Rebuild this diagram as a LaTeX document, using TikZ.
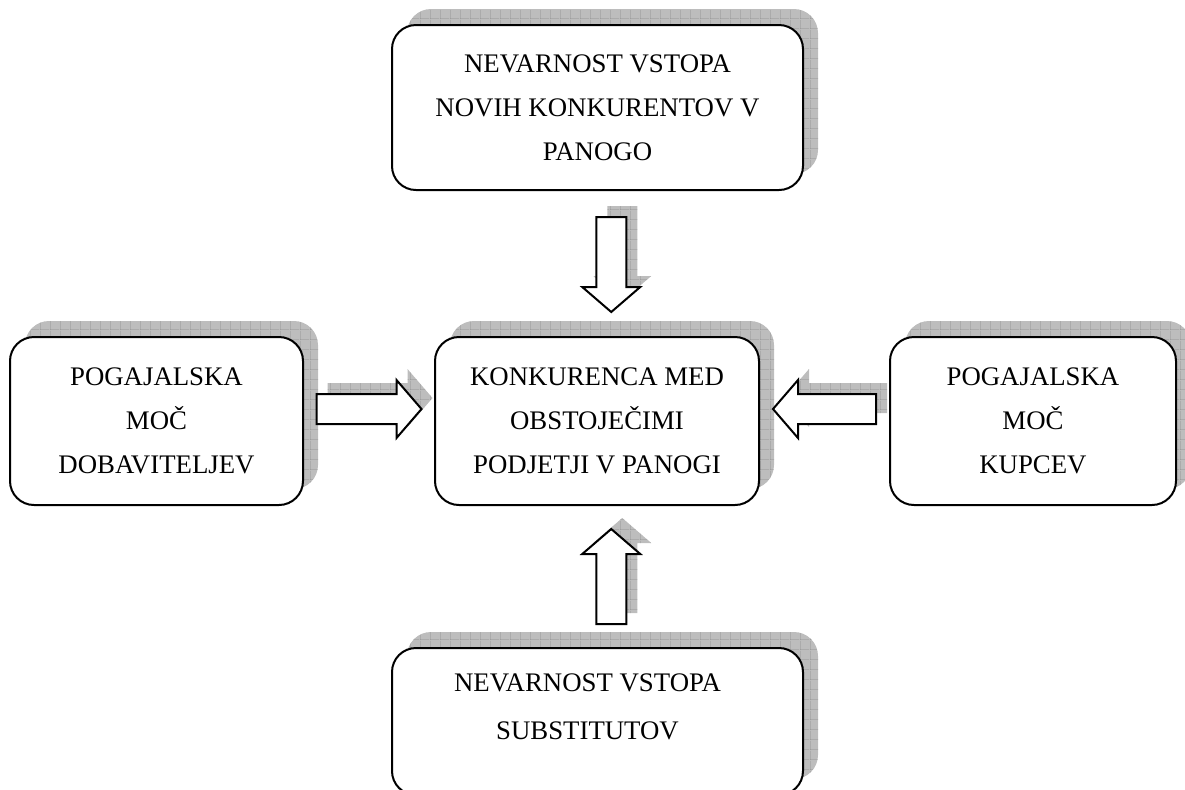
\documentclass[tikz,border=0pt]{standalone}
\usepackage{fontspec}
\setmainfont{Liberation Serif}
\usetikzlibrary{calc,shadows,patterns.meta}

\definecolor{shadefill}{gray}{0.74}
\definecolor{gridline}{gray}{0.55}

\tikzdeclarepattern{
  name=shadegrid,
  type=uncolored,
  bounding box={(0,0) and (5pt,5pt)},
  tile size={(5pt,5pt)},
  code={\draw[line width=0.45pt] (0,0) -- (5pt,0) (0,0) -- (0,5pt);}
}

\tikzset{
  force/.style={draw, line width=1pt, rounded corners=12pt, fill=white,
    align=center, inner sep=0pt, font=\fontsize{13.4}{22}\selectfont,
    general shadow={shadow xshift=7.5pt, shadow yshift=8pt, fill=shadefill},
    general shadow={shadow xshift=7.5pt, shadow yshift=8pt, pattern=shadegrid, pattern color=gridline}},
  arrowbody/.style={draw, line width=1pt, fill=white},
  arrowshade/.style={fill=shadefill, postaction={pattern=shadegrid, pattern color=gridline}},
  pics/blockarrow/.style n args={2}{code={
    \path[#2] (-#1/2,-15) -- (#1/2-25,-15) -- (#1/2-25,-29) -- (#1/2,0)
      -- (#1/2-25,29) -- (#1/2-25,15) -- (-#1/2,15) -- cycle;
  }}
}

\begin{document}
\begin{tikzpicture}[x=0.5pt, y=-0.5pt]
\useasboundingbox (0,0) rectangle (1185,789);
\clip (0,0) rectangle (1185,789);

% the five forces
\node[force, minimum width=205.5pt, minimum height=82.5pt] (entrants) at (597.5,107.5)
  {NEVARNOST VSTOPA\\NOVIH KONKURENTOV V\\PANOGO};
\node[force, minimum width=162pt, minimum height=84pt] (rivalry) at (597,421)
  {KONKURENCA MED\\OBSTOJEČIMI\\PODJETJI V PANOGI};
\node[force, minimum width=146.5pt, minimum height=84pt] (suppliers) at (156.5,421)
  {POGAJALSKA\\MOČ\\DOBAVITELJEV};
\node[force, minimum width=143pt, minimum height=84pt] (buyers) at (1033,421)
  {POGAJALSKA\\MOČ\\KUPCEV};
\node[force, minimum width=205.5pt, minimum height=73.5pt, text height=44pt, text depth=26.5pt]
  (substitutes) at (597.5,721.5)
  {NEVARNOST VSTOPA\hspace*{10pt}\\[2pt]SUBSTITUTOV\hspace*{10pt}};

% block arrows between the boxes
\coordinate (atop) at ($(entrants.south)!0.5!(rivalry.north)+(14,1)$);
\coordinate (abottom) at ($(substitutes.north)!0.5!(rivalry.south)+(14,0)$);
\coordinate (aleft) at ($(suppliers.east)!0.5!(rivalry.west)+(0,-12)$);
\coordinate (aright) at ($(buyers.west)!0.5!(rivalry.east)+(0,-12)$);

\pic[rotate=-90] at ($(atop)+(11,-11)$) {blockarrow={95}{arrowshade}};
\pic[rotate=-90] at (atop) {blockarrow={95}{arrowbody}};
\pic[rotate=90] at ($(abottom)+(11,-11)$) {blockarrow={95}{arrowshade}};
\pic[rotate=90] at (abottom) {blockarrow={95}{arrowbody}};
\pic at ($(aleft)+(11,-11)$) {blockarrow={105}{arrowshade}};
\pic at (aleft) {blockarrow={105}{arrowbody}};
\pic[rotate=180] at ($(aright)+(11,-11)$) {blockarrow={103}{arrowshade}};
\pic[rotate=180] at (aright) {blockarrow={103}{arrowbody}};
\end{tikzpicture}
\end{document}
